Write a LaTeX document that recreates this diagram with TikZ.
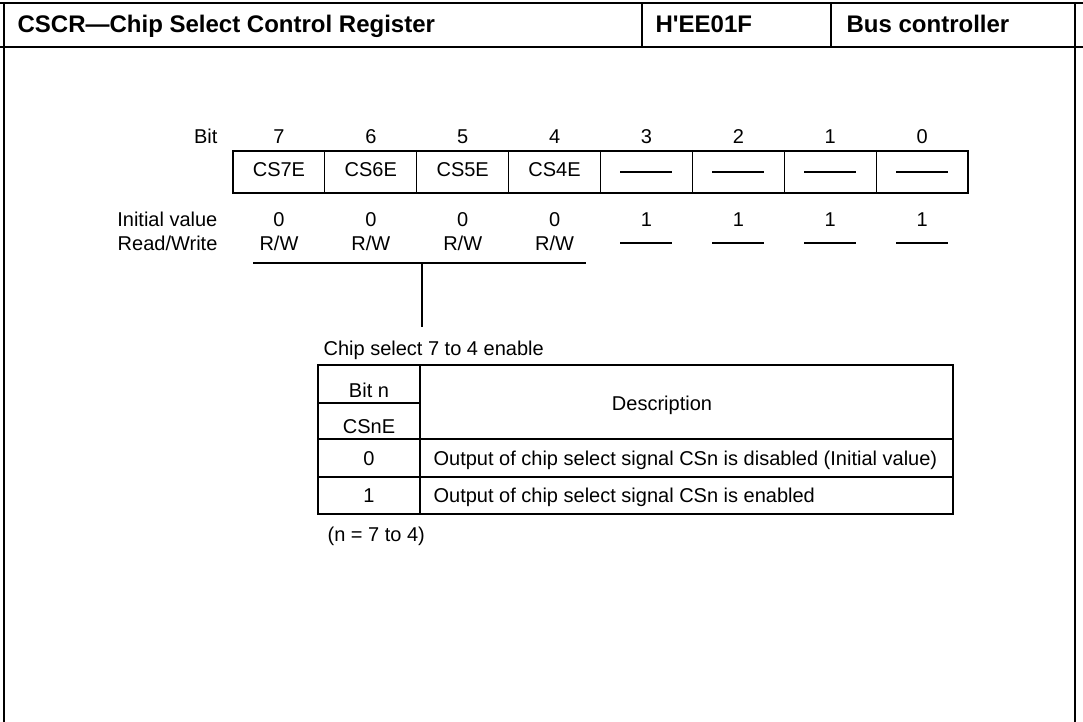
\documentclass[tikz,border=0pt]{standalone}
\usepackage{fontspec}
\newfontfamily\regfont{Liberation Sans}
\tikzset{
    lbl/.style={anchor=base, inner sep=0pt},
    lftlbl/.style={anchor=base west, inner sep=0pt},
    rgtlbl/.style={anchor=base east, inner sep=0pt},
    hdtxt/.style={anchor=base west, inner sep=0pt, font=\regfont\bfseries\fontsize{24}{28}\selectfont},
    cell/.style={draw, minimum width=91.875pt, minimum height=42pt, inner sep=0pt,
        text height=14pt, text depth=4pt}
}
\begin{document}
\begin{tikzpicture}[x=1pt, y=-1pt, line width=1.2pt,
    font=\regfont\fontsize{20}{23}\selectfont]
    \useasboundingbox (0,0) rectangle (1083,722);

    \draw (0,3) -- (1083,3);
    \draw (0,47) -- (1083,47);
    \draw (4,3) -- (4,722);
    \draw (1075,3) -- (1075,722);
    \draw (642,3) -- (642,47);
    \draw (831,3) -- (831,47);
    \node[hdtxt] (title) at (17,33) {CSCR—Chip Select Control Register};
    \node[hdtxt] (addr) at (655,33) {H'EE01F};
    \node[hdtxt] (module) at (846,33) {Bus controller};

    \node[rgtlbl] (bitlbl) at (218,144) {Bit};
    \node[rgtlbl] (initlbl) at (218,226) {Initial value};
    \node[rgtlbl] (rwlbl) at (218,250) {Read/Write};

    \foreach \b [count=\i from 0] in {7,6,...,0} {
        \pgfmathsetmacro\cx{233+91.875*(\i+0.5)}
        \node[lbl] (bit\b) at (\cx,144) {\b};
        \ifnum\b>3
            \node[cell] (cell\b) at (\cx,172) {CS\b E};
            \node[lbl] (init\b) at (\cx,226) {0};
            \node[lbl] (rw\b) at (\cx,250) {R/W};
        \else
            \node[cell] (cell\b) at (\cx,172) {};
            \draw (\cx-26,172) -- (\cx+26,172);
            \node[lbl] (init\b) at (\cx,226) {1};
            \draw (\cx-26,243) -- (\cx+26,243);
        \fi
    }

    \coordinate (brl) at (253,263);
    \coordinate (brr) at (586,263);
    \coordinate (brm) at (422,263);
    \coordinate (brb) at (422,327);
    \draw (brl) -- (brr);
    \draw (brm) -- (brb);

    \node[lftlbl] (csel) at (323,355) {Chip select 7 to 4 enable};
    \draw (318,365) rectangle (953,514);
    \draw (420,365) -- (420,514);
    \draw (318,403) -- (420,403);
    \draw (318,439) -- (953,439);
    \draw (318,477) -- (953,477);
    \node[lbl] (bitn) at (369,397) {Bit n};
    \node[lbl] (csne) at (369,433) {CSnE};
    \node[lbl] (desc) at (662,410) {Description};
    \node[lbl] (val0) at (369,465) {0};
    \node[lbl] (val1) at (369,502) {1};
    \node[lftlbl] (desc0) at (433,465) {Output of chip select signal CSn is disabled (Initial value)};
    \node[lftlbl] (desc1) at (433,502) {Output of chip select signal CSn is enabled};
    \node[lftlbl] (note) at (327,541) {(n = 7 to 4)};
\end{tikzpicture}
\end{document}
